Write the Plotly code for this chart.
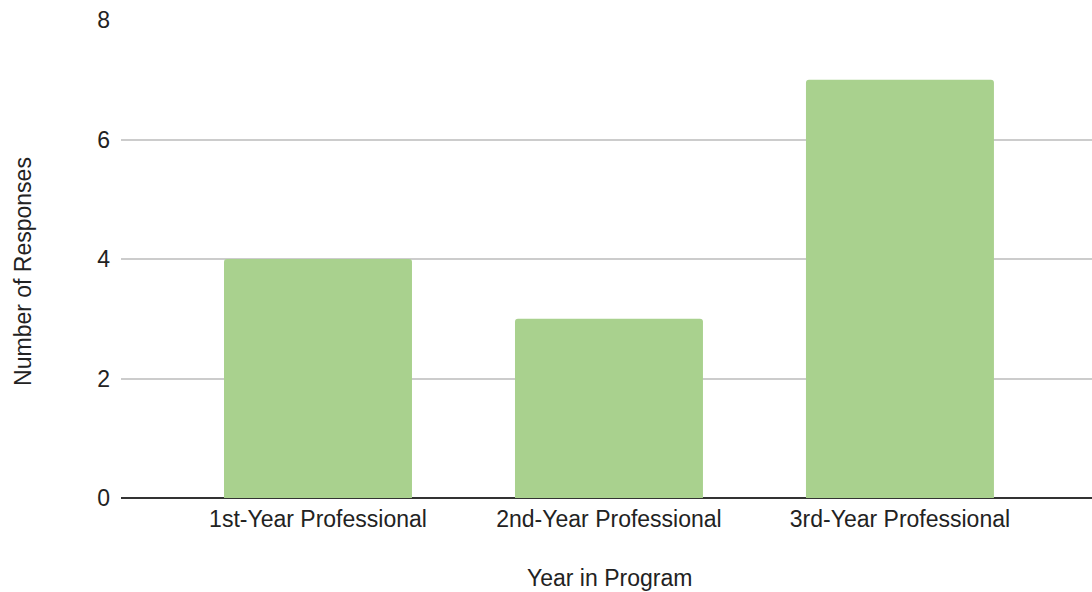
import plotly.graph_objects as go

# Survey responses by year in the program
categories = ["1st-Year Professional", "2nd-Year Professional", "3rd-Year Professional"]
responses = [4, 3, 7]
y_ticks = [0, 2, 4, 6, 8]

FONT = "Liberation Sans, Arial, sans-serif"
TEXT = "#222222"
SIZE = 23

fig = go.Figure(
    go.Bar(
        x=categories,
        y=responses,
        marker=dict(color="#a9d18e", line=dict(width=0)),
        hoverinfo="x+y",
    )
)

fig.update_layout(
    width=1092,
    height=592,
    margin=dict(l=121, r=0, t=20, b=94),
    paper_bgcolor="white",
    plot_bgcolor="white",
    bargap=0.354,
    barcornerradius=3,
    showlegend=False,
    font=dict(family=FONT, size=SIZE, color=TEXT),
)

fig.update_xaxes(
    range=[-0.677, 2.66],
    showgrid=False,
    showline=False,
    zeroline=False,
    ticks="",
    ticklabelstandoff=5,
    tickfont=dict(family=FONT, size=SIZE, color=TEXT),
)

fig.update_yaxes(
    range=[0, 8],
    tickvals=y_ticks,
    showgrid=True,
    gridcolor="#cccccc",
    gridwidth=1.5,
    zeroline=True,
    zerolinecolor="#333333",
    zerolinewidth=2,
    showline=False,
    ticks="",
    ticklabelstandoff=10,
    tickfont=dict(family=FONT, size=SIZE, color=TEXT),
)

# Axis titles placed as paper-anchored annotations
fig.add_annotation(
    text="Year in Program",
    xref="paper", yref="paper",
    x=0.5026, y=-0.167,
    xanchor="center", yanchor="middle",
    showarrow=False,
    font=dict(family=FONT, size=SIZE, color=TEXT),
)
fig.add_annotation(
    text="Number of Responses",
    xref="paper", yref="paper",
    x=-0.1009, y=0.473,
    xanchor="center", yanchor="middle",
    textangle=-90,
    showarrow=False,
    font=dict(family=FONT, size=SIZE, color=TEXT),
)

fig.write_html("out.html")
